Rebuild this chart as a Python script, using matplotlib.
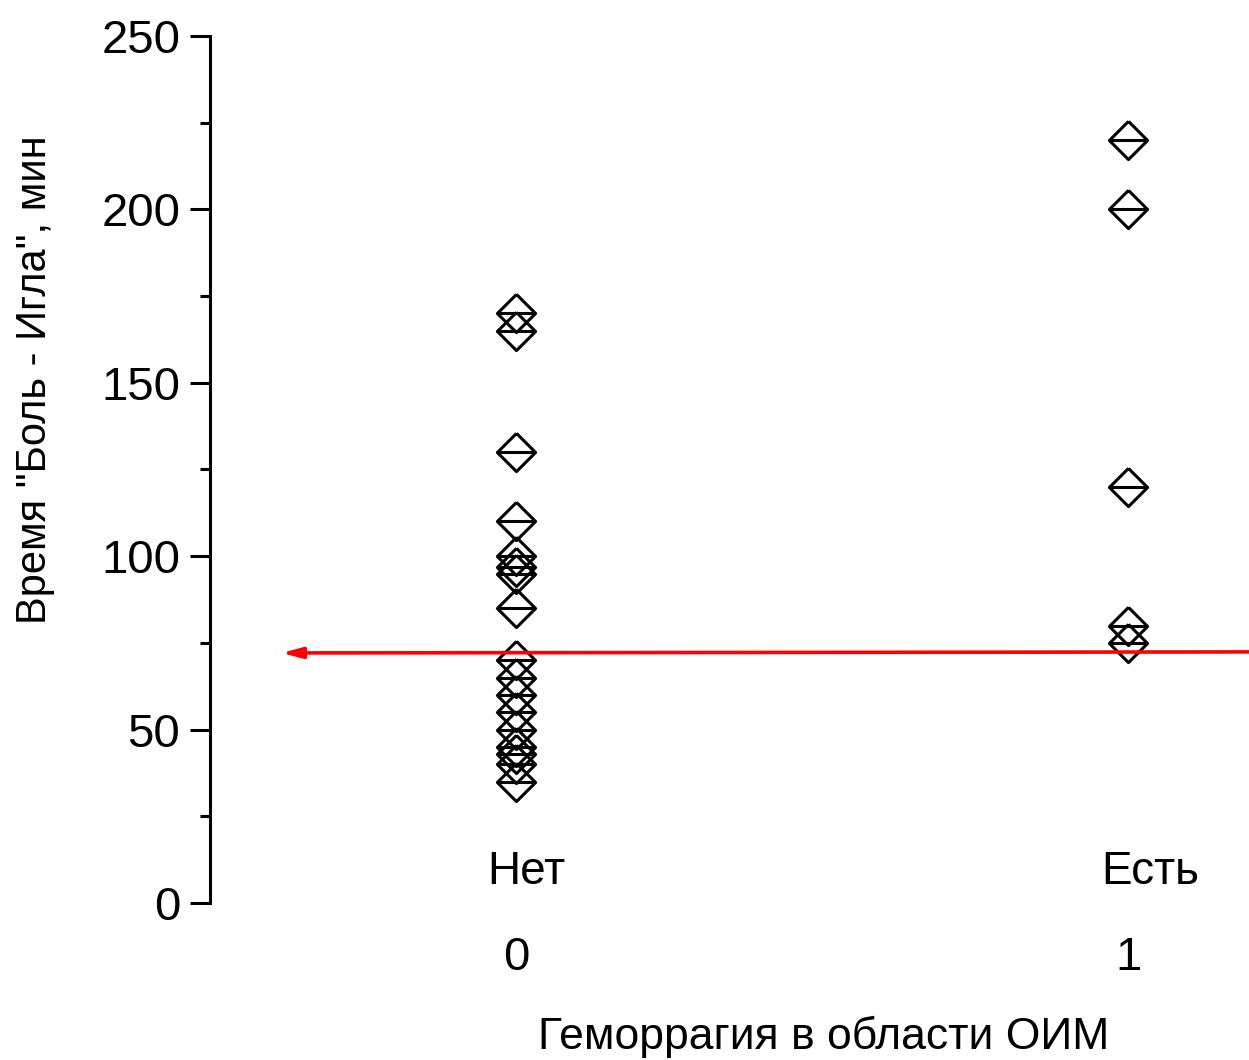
import matplotlib
matplotlib.use("Agg")
import matplotlib.pyplot as plt
from matplotlib.path import Path
import numpy as np

plt.rcParams['font.family'] = ['Liberation Sans', 'DejaVu Sans']

# Data
group_x = [0, 1]
group_names = ["Нет", "Есть"]
tick_labels = ["0", "1"]
no_hem = [170, 165, 130, 110, 100, 97, 95, 85, 70, 65, 60, 55, 50, 45, 43, 40, 35]
hem = [220, 200, 120, 80, 75]
threshold_left = 72.1
threshold_right = 72.4
y_ticks = [0, 50, 100, 150, 200, 250]

fig = plt.figure(figsize=(12.49, 10.6), dpi=100)
ax = fig.add_axes([0.1681, 0.1481, 0.8319, 0.818])

# Diamond marker with horizontal line
verts = [(0, 1), (1, 0), (0, -1), (-1, 0), (0, 1), (-1, 0), (1, 0)]
codes = [Path.MOVETO, Path.LINETO, Path.LINETO, Path.LINETO, Path.LINETO,
         Path.MOVETO, Path.LINETO]
diamond = Path(verts, codes)

for gx, vals in zip(group_x, [no_hem, hem]):
    ax.plot([gx] * len(vals), vals, linestyle='none', marker=diamond,
            markersize=27.5, markerfacecolor='none', markeredgecolor='black',
            markeredgewidth=2.2)

ax.annotate('', xy=(-0.383, threshold_left), xytext=(1.2, threshold_right),
            arrowprops=dict(arrowstyle='-|>,head_length=0.6,head_width=0.16',
                            color='red', lw=2.6, mutation_scale=20,
                            shrinkA=0, shrinkB=0))

ax.text(0.016, 9.0, group_names[0], fontsize=33, ha='center', va='center')
ax.text(1.036, 9.0, group_names[1], fontsize=33, ha='center', va='center')

ax.set_xlim(-0.5, 1.197)
ax.set_ylim(0, 250)
ax.set_yticks(y_ticks)
ax.set_yticks([25, 75, 125, 175, 225], minor=True)
ax.set_xticks(group_x)
ax.set_xticklabels(tick_labels)

for s in ['top', 'right', 'bottom']:
    ax.spines[s].set_visible(False)
ax.spines['left'].set_linewidth(2.2)

ax.tick_params(axis='y', which='major', length=14.4, width=2.2, labelsize=34, pad=7)
ax.tick_params(axis='y', which='minor', length=7.2, width=2.2)
ax.tick_params(axis='x', which='both', length=0, labelsize=34, pad=24)

fig.text(0.028, 0.6415, 'Время "Боль - Игла", мин', fontsize=30,
         rotation=90, ha='center', va='center')
fig.text(0.6597, 0.0217, 'Геморрагия в области ОИМ', fontsize=32,
         ha='center', va='center')

fig.savefig('out.png', dpi=100)
